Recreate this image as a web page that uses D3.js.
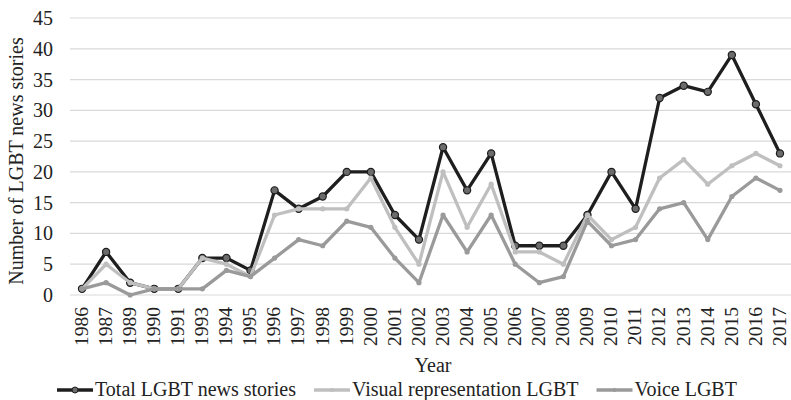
<!DOCTYPE html>
<html>
<head>
<meta charset="utf-8">
<script src="https://cdn.jsdelivr.net/npm/d3@7"></script>
<style>
  body { margin: 0; background: #fff; }
  svg text { font-family: "Liberation Serif", "DejaVu Serif", serif; fill: #222; }
</style>
</head>
<body>
<div id="chart"></div>
<script>
const years = ['1986', '1987', '1989', '1990', '1991', '1993', '1994', '1995', '1996', '1997',
  '1998', '1999', '2000', '2001', '2002', '2003', '2004', '2005', '2006', '2007',
  '2008', '2009', '2010', '2011', '2012', '2013', '2014', '2015', '2016', '2017']
const totalStories = [1, 7, 2, 1, 1, 6, 6, 4, 17, 14, 16, 20, 20, 13, 9, 24, 17, 23, 8, 8, 8, 13, 20, 14, 32, 34, 33, 39, 31, 23]
const visualRep = [1, 5, 2, 1, 1, 6, 5, 3, 13, 14, 14, 14, 19, 11, 5, 20, 11, 18, 7, 7, 5, 13, 9, 11, 19, 22, 18, 21, 23, 21]
const voiceLgbt = [1, 2, 0, 1, 1, 1, 4, 3, 6, 9, 8, 12, 11, 6, 2, 13, 7, 13, 5, 2, 3, 12, 8, 9, 14, 15, 9, 16, 19, 17]
const yTicks = [0, 5, 10, 15, 20, 25, 30, 35, 40, 45]

const series = [
  {name: 'Total LGBT news stories', values: totalStories, color: '#1e1e1e', dot: '#6b6b6b', r: 3.6},
  {name: 'Visual representation LGBT', values: visualRep, color: '#bfbfbf', dot: '#bfbfbf', r: 2.6},
  {name: 'Voice LGBT', values: voiceLgbt, color: '#9a9a9a', dot: '#9a9a9a', r: 2.6}
]

const width = 791, height = 400
const svg = d3.select('#chart').append('svg')
  .attr('width', width)
  .attr('height', height)

const x = d3.scaleBand().domain(years).range([70, 792])
const y = d3.scaleLinear().domain([0, 45]).range([295, 18])
const cx = d => x(d) + x.bandwidth() / 2

// grid
svg.append('g').selectAll('line')
  .data(yTicks)
  .enter().append('line')
  .attr('x1', 70).attr('x2', width)
  .attr('y1', d => y(d)).attr('y2', d => y(d))
  .attr('stroke', '#d9d9d9')
  .attr('stroke-width', 1.2)

svg.append('g').selectAll('text')
  .data(yTicks)
  .enter().append('text')
  .attr('x', 53)
  .attr('y', d => y(d))
  .attr('dy', '0.35em')
  .attr('text-anchor', 'end')
  .style('font-size', '20px')
  .text(d => d)

svg.append('g').selectAll('text')
  .data(years)
  .enter().append('text')
  .attr('transform', d => `translate(${cx(d)},307) rotate(-90)`)
  .attr('dy', '0.3em')
  .attr('text-anchor', 'end')
  .style('font-size', '19.5px')
  .text(d => d)

svg.append('text')
  .attr('transform', 'translate(23,161) rotate(-90)')
  .attr('text-anchor', 'middle')
  .style('font-size', '20px')
  .text('Number of LGBT news stories')

svg.append('text')
  .attr('x', 433).attr('y', 372)
  .attr('text-anchor', 'middle')
  .style('font-size', '20px')
  .text('Year')

const line = d3.line()
  .x((d, i) => cx(years[i]))
  .y(d => y(d))

series.forEach(s => {
  const g = svg.append('g')
  g.append('path')
    .attr('d', line(s.values))
    .attr('fill', 'none')
    .attr('stroke', s.color)
    .attr('stroke-width', 3.3)
    .attr('stroke-linejoin', 'round')
  g.selectAll('circle')
    .data(s.values)
    .enter().append('circle')
    .attr('cx', (d, i) => cx(years[i]))
    .attr('cy', d => y(d))
    .attr('r', s.r)
    .attr('fill', s.dot)
    .attr('stroke', s.color)
    .attr('stroke-width', s === series[0] ? 1.2 : 0)
})

// legend
const legend = svg.append('g')
let lx = 57
series.forEach(s => {
  legend.append('line')
    .attr('x1', lx).attr('x2', lx + 36)
    .attr('y1', 390).attr('y2', 390)
    .attr('stroke', s.color)
    .attr('stroke-width', 3.3)
  legend.append('circle')
    .attr('cx', lx + 18).attr('cy', 390)
    .attr('r', s.r - 0.6)
    .attr('fill', s.dot)
    .attr('stroke', s.color)
    .attr('stroke-width', s === series[0] ? 1 : 0)
  const t = legend.append('text')
    .attr('x', lx + 38).attr('y', 396)
    .style('font-size', '20px')
    .text(s.name)
  lx += 38 + t.node().getComputedTextLength() + 18
})
</script>
</body>
</html>
